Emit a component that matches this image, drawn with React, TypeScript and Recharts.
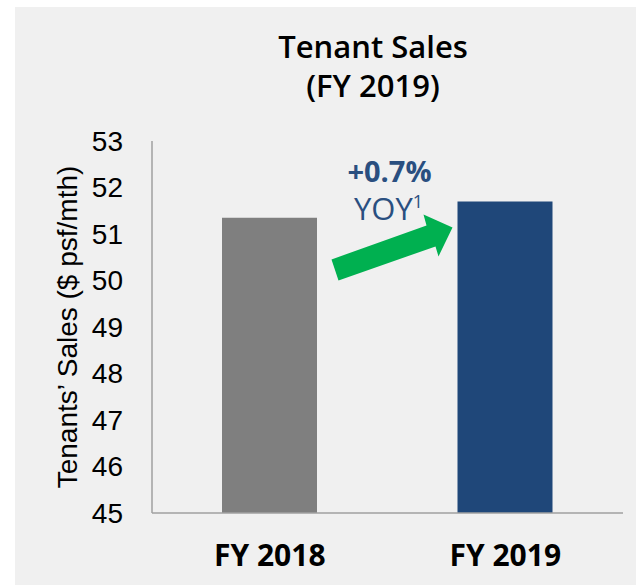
import React from 'react';
import { BarChart, Bar, XAxis, YAxis, Cell } from 'recharts';

const categories = ['FY 2018', 'FY 2019'];
const salesValues = [51.35, 51.7];
const barColors = ['#7f7f7f', '#1f4779'];
const yTicks = [45, 46, 47, 48, 49, 50, 51, 52, 53];
const growthText = '+0.7%';

const chartData = categories.map((name, i) => ({ name, sales: salesValues[i] }));

const sansFont = '"Liberation Sans", Arial, sans-serif';
const titleFont = '"Open Sans", "Noto Sans", sans-serif';

// arrow outline, relative to its tip
const arrowPts = [
  [-121, 32],
  [-26, -2],
  [-29, -13],
  [0, 0],
  [-14, 29],
  [-17, 19],
  [-114, 53],
];

const renderGrowth = (props: any) => {
  const { x, y, index } = props;
  if (index !== 1) return null;
  const tipX = x - 5;
  const tipY = y + 26;
  const pts = arrowPts.map(([dx, dy]) => `${tipX + dx},${tipY + dy}`).join(' ');
  return (
    <g>
      <polygon points={pts} fill="#00b050" />
      <text
        x={x - 68}
        y={y - 19}
        textAnchor="middle"
        fontFamily={titleFont}
        fontWeight={700}
        fontSize={29}
        fill="#2a4f80"
      >
        {growthText}
      </text>
      <text x={x - 69} y={y + 19} textAnchor="middle" fontFamily={titleFont} fontSize={31} fill="#2a4f80">
        YOY
        <tspan fontSize={18} dy={-12}>1</tspan>
      </text>
    </g>
  );
};

const renderYLabel = (props: any) => {
  const vb = props.viewBox || {};
  const cx = (vb.x || 0) + 52;
  const cy = (vb.y || 0) + (vb.height || 0) / 2;
  return (
    <text
      x={cx}
      y={cy}
      transform={`rotate(-90, ${cx}, ${cy})`}
      textAnchor="middle"
      dominantBaseline="central"
      fontFamily={sansFont}
      fontSize={28}
      fill="#000"
    >
      Tenants’ Sales ($ psf/mth)
    </text>
  );
};

export default function App() {
  return (
    <div style={{ position: 'absolute', left: 0, top: 0, width: 636, height: 585, background: '#fff' }}>
      <div style={{ position: 'absolute', left: 15, top: 7, width: 621, height: 578, background: '#f0f0f0' }}>
        <div
          style={{
            position: 'absolute',
            left: 0,
            width: 716,
            top: 20,
            textAlign: 'center',
            fontFamily: titleFont,
            fontWeight: 600,
            fontSize: 31,
            lineHeight: '39px',
            color: '#000',
          }}
        >
          Tenant Sales
          <br />
          (FY 2019)
        </div>
        <BarChart
          width={621}
          height={578}
          data={chartData}
          margin={{ top: 134, right: 13, left: 0, bottom: 0 }}
          barSize={95}
        >
          <XAxis
            dataKey="name"
            height={72}
            axisLine={{ stroke: '#a0a0a0', strokeWidth: 1.5 }}
            tickLine={false}
            tickSize={6}
            tickMargin={26}
            tick={{ fill: '#000', fontSize: 30, fontWeight: 700, fontFamily: titleFont }}
          />
          <YAxis
            width={137}
            domain={[45, 53]}
            ticks={yTicks}
            interval={0}
            axisLine={{ stroke: '#a0a0a0', strokeWidth: 1.5 }}
            tickLine={false}
            tickSize={6}
            tickMargin={23}
            tick={{ fill: '#000', fontSize: 28, fontFamily: sansFont }}
            label={{ content: renderYLabel }}
          />
          <Bar dataKey="sales" isAnimationActive={false} label={renderGrowth}>
            {chartData.map((d, i) => (
              <Cell key={d.name} fill={barColors[i]} />
            ))}
          </Bar>
        </BarChart>
      </div>
    </div>
  );
}
